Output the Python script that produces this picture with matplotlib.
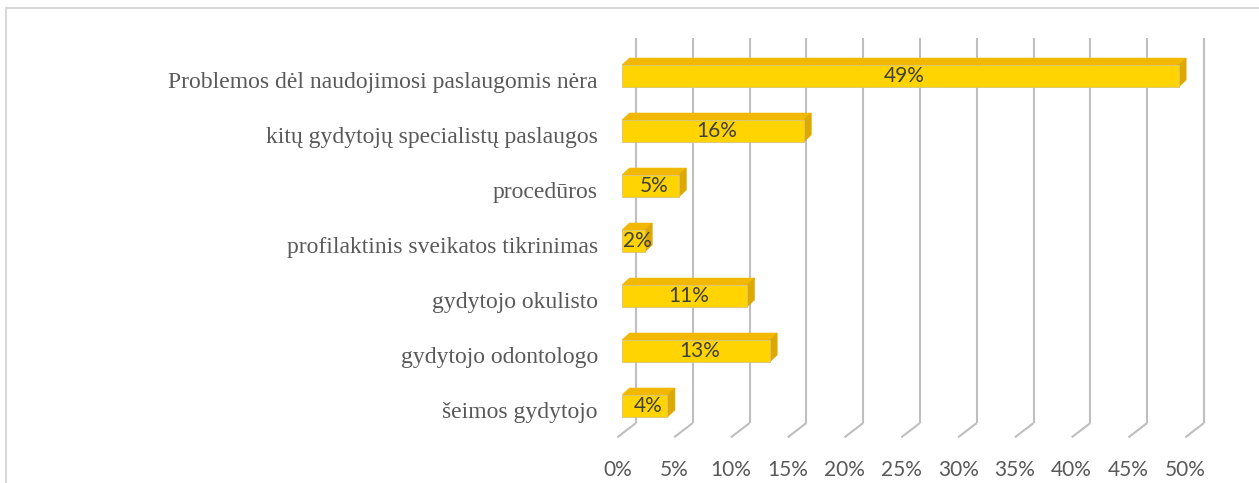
import matplotlib
matplotlib.use("Agg")
import matplotlib.pyplot as plt
from matplotlib.patches import Polygon, Rectangle
from matplotlib.transforms import ScaledTranslation

categories = ["šeimos gydytojo", "gydytojo odontologo", "gydytojo okulisto",
              "profilaktinis sveikatos tikrinimas", "procedūros",
              "kitų gydytojų specialistų paslaugos",
              "Problemos dėl naudojimosi paslaugomis nėra"]
values = [4, 13, 11, 2, 5, 16, 49]
xticks = [0, 5, 10, 15, 20, 25, 30, 35, 40, 45, 50]
xtick_labels = [f"{t}%" for t in xticks]

W, H = 1259, 483
fig = plt.figure(figsize=(W / 100, H / 100), dpi=100)
fig.patch.set_facecolor("white")

# outer chart border (extends past the right/bottom edges)
fig.add_artist(Rectangle((6 / W, -0.2), 1.2, (H - 8) / H + 0.2,
                         transform=fig.transFigure, fill=False,
                         edgecolor="#D9D9D9", linewidth=1.5))

ax_left, ax_right = 622, 1190
ax_top, ax_bot = 48.5, 433.5
ax = fig.add_axes([ax_left / W, (H - ax_bot) / H,
                   (ax_right - ax_left) / W, (ax_bot - ax_top) / H])
ax.set_xlim(0, 50)
ax.set_ylim(-0.5, len(categories) - 0.5)
for s in ax.spines.values():
    s.set_visible(False)
ax.set_facecolor("none")

pxx = (ax_right - ax_left) / 50.0          # px per x unit
pxy = (ax_bot - ax_top) / len(categories)  # px per y unit

# gridlines: back wall verticals + floor diagonals
back_dx, back_dy = 14 / pxx, 10.5 / pxy
front_dx, front_dy = -4.7 / pxx, -3.8 / pxy
ylo, yhi = -0.5, len(categories) - 0.5
grid_c = "#BFBFBF"
for t in xticks:
    ax.plot([t + back_dx, t + back_dx], [ylo + back_dy, yhi + back_dy],
            color=grid_c, lw=1.5, zorder=1, clip_on=False,
            solid_capstyle="butt")
    ax.plot([t + back_dx, t + front_dx], [ylo + back_dy, ylo + front_dy],
            color=grid_c, lw=1.5, zorder=1, clip_on=False,
            solid_capstyle="butt")

# 3D bars
h = 0.4
ddx, ddy = 7.5 / pxx, 7 / pxy
front_c, top_c, side_c = "#FFD400", "#F2B800", "#DDA800"
edge_c = "#D9C27A"
ypos = list(range(len(categories)))
ax.barh(ypos, values, height=h, color=front_c, edgecolor=edge_c,
        linewidth=0.6, zorder=3)
for y, v in zip(ypos, values):
    top = Polygon([(0, y + h / 2), (v, y + h / 2),
                   (v + ddx, y + h / 2 + ddy), (ddx, y + h / 2 + ddy)],
                  closed=True, facecolor=top_c, edgecolor=top_c,
                  linewidth=0.4, zorder=2.9)
    side = Polygon([(v, y - h / 2), (v, y + h / 2),
                    (v + ddx, y + h / 2 + ddy), (v + ddx, y - h / 2 + ddy)],
                   closed=True, facecolor=side_c, edgecolor=side_c,
                   linewidth=0.4, zorder=2.9)
    ax.add_patch(top)
    ax.add_patch(side)
    ax.text(v / 2 + ddx / 2, y, f"{v}%", ha="center", va="center",
            fontsize=15, color="#404040", family="Lato", zorder=4)

# category labels
ax.set_yticks(ypos)
ax.set_yticklabels(categories, fontsize=17, color="#595959",
                   family="Liberation Serif")
ax.tick_params(axis="y", length=0, pad=17.3)
for lab in ax.get_yticklabels():
    lab.set_transform(lab.get_transform() +
                      ScaledTranslation(0, -4 / 100, fig.dpi_scale_trans))

# x tick labels at the front floor edge
ax.set_xticks(xticks)
ax.set_xticklabels(xtick_labels, fontsize=15, color="#595959", family="Lato")
ax.tick_params(axis="x", length=0, pad=19)
for lab in ax.get_xticklabels():
    lab.set_transform(lab.get_transform() +
                      ScaledTranslation(-4.7 / 100, 0, fig.dpi_scale_trans))

fig.savefig("out.png", dpi=100)
